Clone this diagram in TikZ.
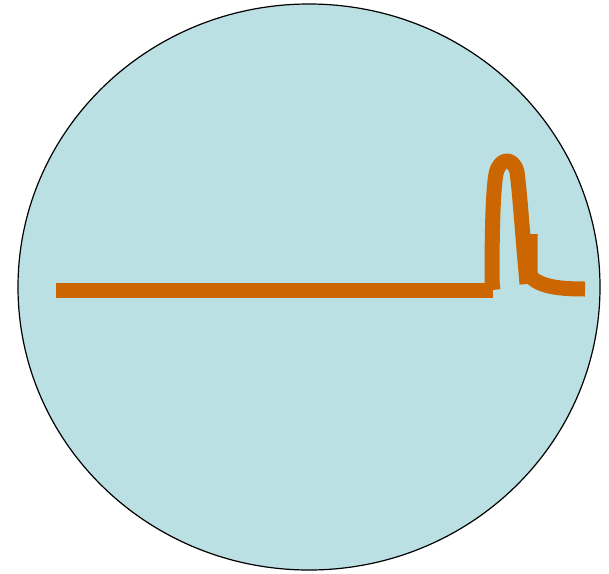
\documentclass[tikz,border=0pt]{standalone}
\definecolor{cellblue}{HTML}{BBE0E3}
\definecolor{traceorange}{HTML}{CC6600}
\begin{document}
\begin{tikzpicture}[x=1pt,y=-1pt,
    trace/.style={draw=traceorange,line width=15pt,line join=round}]
    \useasboundingbox (0,0) rectangle (609,573);
    \coordinate (C) at (309,287);
    \draw[fill=cellblue,line width=1.2pt] (C) ellipse[x radius=291,y radius=283]; % cell
    \coordinate (start) at (56,290);
    \coordinate (foot) at (493,290);
    \draw[trace,line join=miter] (start) -- (foot); % resting level
    \draw[trace]
          (foot) -- (492,282)
          .. controls (492,230) and (493,190) .. (496,174) % rising edge
          .. controls (499,158) and (513,156) .. (517,172) % spike top
          .. controls (520,195) and (523,240) .. (526,272) % falling edge
          -- (527,284)
          ;
    \draw[trace,line cap=butt] (530,234) -- (530,276)
          .. controls (540,287) and (560,289) .. (585,289) coordinate (tail); % recovery
\end{tikzpicture}
\end{document}
